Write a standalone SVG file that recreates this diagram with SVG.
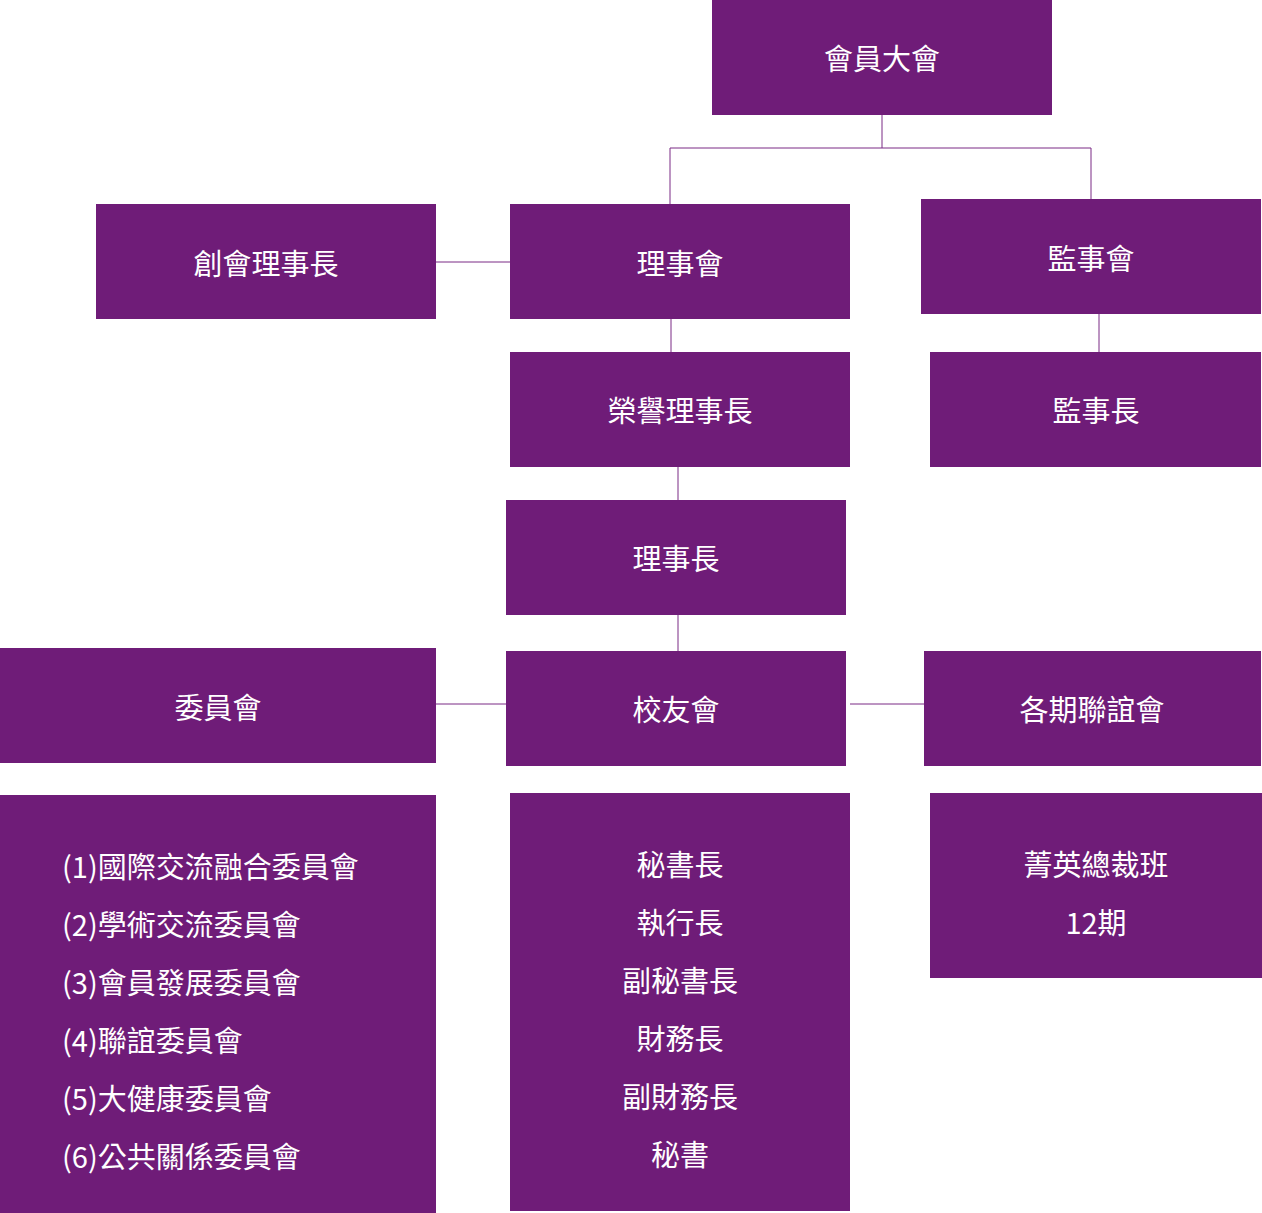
<svg xmlns="http://www.w3.org/2000/svg" width="1262" height="1213" viewBox="0 0 1262 1213">
<style>
.b{fill:#6f1c78}
.t{fill:#fff;font-family:"Noto Sans CJK TC","Noto Sans",sans-serif;font-size:29px;dominant-baseline:central}
.c{text-anchor:middle}
.l{stroke:#7a2a85;stroke-width:1;fill:none}
</style>
<rect width="1262" height="1213" fill="#fff"/>
<g id="connectors">
<path class="l" d="M882,115V148M670,148H1091M670,148V204M1091,148V199M436,262H510M671,319V352M1099,314V352M678,467V500M678,600V651M436,704H506M850,704H924"/>
</g>
<g id="n1"><rect class="b" x="712" y="0" width="340" height="115"/><text class="t c" x="882" y="57">會員大會</text></g>
<g id="n2"><rect class="b" x="96" y="204" width="340" height="115"/><text class="t c" x="266" y="262">創會理事長</text></g>
<g id="n3"><rect class="b" x="510" y="204" width="340" height="115"/><text class="t c" x="680" y="262">理事會</text></g>
<g id="n4"><rect class="b" x="921" y="199" width="340" height="115"/><text class="t c" x="1091" y="257">監事會</text></g>
<g id="n5"><rect class="b" x="510" y="352" width="340" height="115"/><text class="t c" x="680" y="409">榮譽理事長</text></g>
<g id="n6"><rect class="b" x="930" y="352" width="331" height="115"/><text class="t c" x="1096" y="409">監事長</text></g>
<g id="n7"><rect class="b" x="506" y="500" width="340" height="115"/><text class="t c" x="676" y="557">理事長</text></g>
<g id="n8"><rect class="b" x="0" y="648" width="436" height="115"/><text class="t c" x="218" y="706">委員會</text></g>
<g id="n9"><rect class="b" x="506" y="651" width="340" height="115"/><text class="t c" x="676" y="708">校友會</text></g>
<g id="n10"><rect class="b" x="924" y="651" width="337" height="115"/><text class="t c" x="1092" y="708">各期聯誼會</text></g>
<g id="n11"><rect class="b" x="0" y="795" width="436" height="418"/>
<text class="t" x="62" y="865">(1)國際交流融合委員會</text>
<text class="t" x="62" y="923">(2)學術交流委員會</text>
<text class="t" x="62" y="981">(3)會員發展委員會</text>
<text class="t" x="62" y="1039">(4)聯誼委員會</text>
<text class="t" x="62" y="1097">(5)大健康委員會</text>
<text class="t" x="62" y="1155">(6)公共關係委員會</text></g>
<g id="n12"><rect class="b" x="510" y="793" width="340" height="418"/>
<text class="t c" x="680" y="863">秘書長</text>
<text class="t c" x="680" y="921">執行長</text>
<text class="t c" x="680" y="979">副秘書長</text>
<text class="t c" x="680" y="1037">財務長</text>
<text class="t c" x="680" y="1095">副財務長</text>
<text class="t c" x="680" y="1153">秘書</text></g>
<g id="n13"><rect class="b" x="930" y="793" width="332" height="185"/>
<text class="t c" x="1096" y="863">菁英總裁班</text>
<text class="t c" x="1096" y="921">12期</text></g>
</svg>
